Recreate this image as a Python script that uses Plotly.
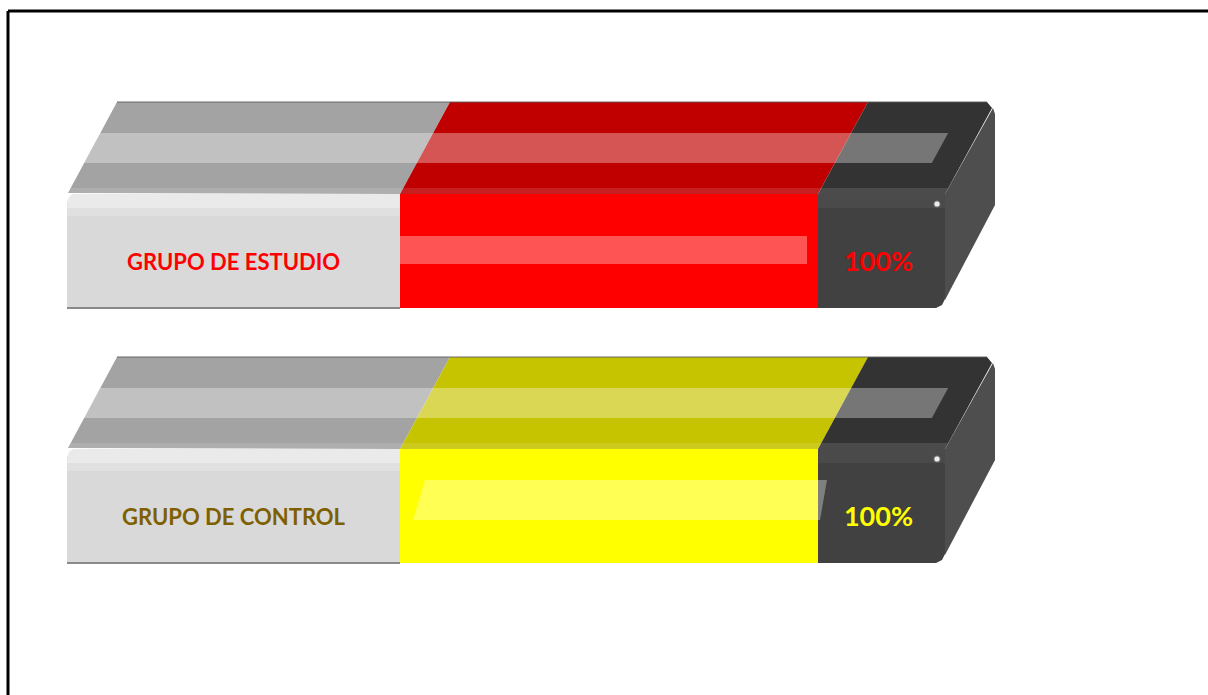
import plotly.graph_objects as go

# ---------------- data ----------------
categories = ["GRUPO DE ESTUDIO", "GRUPO DE CONTROL"]
values = [100, 100]
value_labels = ["100%", "100%"]
front_colors = ["#ff0000", "#ffff00"]
top_colors = ["#c00000", "#c6c300"]
label_colors = ["#ff0000", "#7f6000"]
value_label_colors = ["#ff0000", "#ffff00"]

# ---------------- layout constants (style / geometry) ----------------
W, H = 1208, 695
PX_PER_UNIT = 4.18          # pixels per percentage point on the x axis
ZERO_PX = 400               # pixel position of 0 %
X_RANGE = [-ZERO_PX / PX_PER_UNIT, (W - ZERO_PX) / PX_PER_UNIT]


def u(px):
    """pixel length -> x-axis units"""
    return px / PX_PER_UNIT


ROW_TOP = 194      # y of the front face top for the first row (y axis is in px)
ROW_STEP = 255
FRONT_H = 114
DEPTH_X = u(50)
DEPTH_Y = 92
LABEL_W = u(333)
CAP_W = u(127)

# per-row placement of the glossy strip on the front of the coloured bar
# (y offsets from front top, x offsets in px from bar start / bar end)
front_band_style = [
    dict(y0=42, y1=70, lt=0, lb=0, rt=-11, rb=-11),
    dict(y0=31, y1=71, lt=25, lb=13, rt=9, rb=2),
]

GRAY_TOP = "#a3a3a3"
GRAY_FRONT = "#d9d9d9"
CAP_TOP = "#333333"
CAP_FRONT = "#414141"
CAP_SIDE = "#4e4e4e"
GLOSS = "rgba(255,255,255,0.33)"

fig = go.Figure()


def poly(xs, ys, color):
    fig.add_trace(go.Scatter(
        x=list(xs) + [xs[0]], y=list(ys) + [ys[0]], mode="lines",
        fill="toself", fillcolor=color, line=dict(width=0, color=color),
        hoverinfo="skip", showlegend=False))


def line(xs, ys, color, width):
    fig.add_trace(go.Scatter(x=xs, y=ys, mode="lines",
                             line=dict(color=color, width=width),
                             hoverinfo="skip", showlegend=False))


row_tops = [ROW_TOP + i * ROW_STEP for i in range(len(categories))]
row_centers = [t + FRONT_H / 2 for t in row_tops]

# coloured front faces as a real horizontal bar trace
fig.add_trace(go.Bar(
    y=row_centers, x=values, base=0, orientation="h", width=FRONT_H,
    marker=dict(color=front_colors, line=dict(width=0)),
    hoverinfo="skip", showlegend=False))

for i, cat in enumerate(categories):
    v = values[i]
    FT = row_tops[i]
    FB = FT + FRONT_H
    BT = FT - DEPTH_Y
    L = -LABEL_W
    E = v + CAP_W

    # ---- gray label block front ----
    poly([L, L, L + u(2), L + u(6), 0, 0],
         [FB, FT + 9, FT + 3, FT, FT, FB], GRAY_FRONT)
    poly([L + u(1), L + u(5), 0, 0, L],
         [FT + 4, FT, FT, FT + 14, FT + 14], "rgba(255,255,255,0.45)")
    poly([L, 0, 0, L], [FT + 14, FT + 14, FT + 22, FT + 22],
         "rgba(255,255,255,0.18)")
    line([L, 0], [FB, FB], "#8a8a8a", 2)

    # ---- dark cap front ----
    poly([v, E, E, E - u(3), E - u(9), v],
         [FT, FT, FB - 9, FB - 3, FB, FB], CAP_FRONT)
    poly([v, E, E, v], [FT, FT, FT + 14, FT + 14], "rgba(255,255,255,0.05)")

    # ---- right side face ----
    poly([E, E + DEPTH_X - u(2), E + DEPTH_X, E + DEPTH_X, E],
         [FT, BT + 6, BT + 12, BT + 103, FB - 8], CAP_SIDE)

    # ---- top faces ----
    poly([L + u(1), 0, DEPTH_X, L + DEPTH_X], [FT - 1, FT, BT, BT], GRAY_TOP)
    poly([0, v, v + DEPTH_X, DEPTH_X], [FT, FT, BT, BT], top_colors[i])
    poly([v, E, E + DEPTH_X - u(3), E + DEPTH_X - u(8), v + DEPTH_X],
         [FT, FT, BT + 6, BT, BT], CAP_TOP)
    # rounded front edge of the top face
    poly([L + u(1), E, E + u(3), L + u(4)], [FT, FT, FT - 6, FT - 6],
         "rgba(255,255,255,0.12)")
    # back top edge
    line([L + DEPTH_X, E + DEPTH_X - u(8)], [BT, BT], "rgba(90,90,90,0.6)", 1.5)

    # ---- glossy strip on top face ----
    yb0, yb1 = BT + 31, BT + 61

    def left_at(y):
        return L + DEPTH_X * (FT - y) / DEPTH_Y

    def right_at(y):
        return E + DEPTH_X * (FT - y) / DEPTH_Y - u(30)

    poly([left_at(yb0), right_at(yb0), right_at(yb1), left_at(yb1)],
         [yb0, yb0, yb1, yb1], GLOSS)

    # ---- glossy strip on coloured front ----
    s = front_band_style[i]
    poly([u(s["lt"]), v + u(s["rt"]), v + u(s["rb"]), u(s["lb"])],
         [FT + s["y0"], FT + s["y0"], FT + s["y1"], FT + s["y1"]], GLOSS)

    # ---- specular dot ----
    fig.add_trace(go.Scatter(
        x=[E - u(8)], y=[FT + 10], mode="markers",
        marker=dict(size=5, color="rgba(255,255,255,0.9)",
                    line=dict(width=2, color="rgba(255,255,255,0.25)")),
        hoverinfo="skip", showlegend=False))

    # ---- texts ----
    fig.add_trace(go.Scatter(
        x=[L + LABEL_W / 2], y=[FT + 70], mode="text", text=[cat],
        textposition="middle center",
        textfont=dict(family="Lato", size=22, color=label_colors[i],
                      weight="bold"),
        hoverinfo="skip", showlegend=False))
    fig.add_trace(go.Scatter(
        x=[v + CAP_W / 2 - u(3)], y=[FT + 70], mode="text",
        text=[value_labels[i]], textposition="middle center",
        textfont=dict(family="Lato", size=27, color=value_label_colors[i],
                      weight="bold"),
        hoverinfo="skip", showlegend=False))

# frame around the slide
fig.add_shape(type="line", xref="paper", yref="paper",
              x0=8 / W, x1=1.0, y0=1 - 11 / H, y1=1 - 11 / H,
              line=dict(color="black", width=3))
fig.add_shape(type="line", xref="paper", yref="paper",
              x0=8 / W, x1=8 / W, y0=1 - 11 / H, y1=0,
              line=dict(color="black", width=3))

fig.update_layout(
    width=W, height=H, margin=dict(l=0, r=0, t=0, b=0),
    paper_bgcolor="white", plot_bgcolor="white",
    xaxis=dict(range=X_RANGE, visible=False, fixedrange=True),
    yaxis=dict(range=[H, 0], visible=False, fixedrange=True),
    showlegend=False, bargap=0,
)

fig.write_html("out.html")
